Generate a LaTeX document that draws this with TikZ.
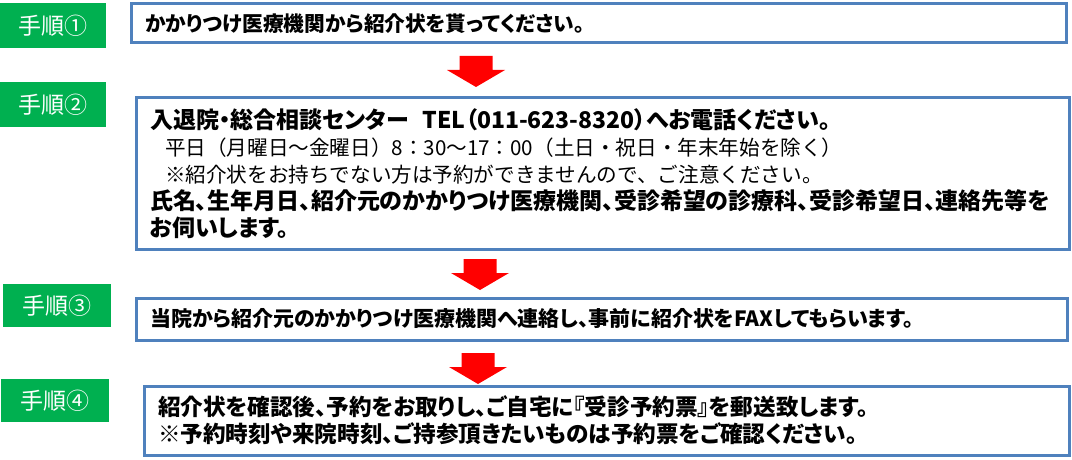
\documentclass[tikz,border=0pt]{standalone}
\usepackage{fontspec}
\setmainfont{Noto Sans CJK JP}[RawFeature=+palt]
\newfontfamily\plainjp{Noto Sans CJK JP}
\usetikzlibrary{positioning}

\definecolor{tagGreen}{HTML}{00B050}
\definecolor{boxBlue}{HTML}{4F81BD}
\definecolor{arrowRed}{HTML}{FF0000}

\tikzset{
	steptag/.style={fill=tagGreen, text=white, anchor=north west, inner sep=0pt, font=\fontsize{23}{26}\selectfont},
	infobox/.style={draw=boxBlue, line width=3pt, anchor=north west, inner xsep=14pt, inner ysep=0pt, align=left, font=\bfseries\fontsize{21}{27}\selectfont},
	redarrow/.pic={\fill[arrowRed] (-16.5,0) -- (16.5,0) -- (16.5,14) -- (29,14) -- (0,31) -- (-29,14) -- (-16.5,14) -- cycle;}
}
\newcommand{\plainline}[1]{{\plainjp\mdseries\fontsize{20.6}{27}\selectfont\hspace*{15pt}#1}}

\begin{document}
\begin{tikzpicture}[x=1pt, y=-1pt]
	\useasboundingbox (0,0) rectangle (1072,460);
	% step tags
	\node[steptag, minimum width=106pt, minimum height=45pt] (T1) at (0,3) {手順①};
	\node[steptag, minimum width=106pt, minimum height=45pt] (T2) at (0,82) {手順②};
	\node[steptag, minimum width=108pt, minimum height=43pt] (T3) at (3,284) {手順③};
	\node[steptag, minimum width=108pt, minimum height=43pt] (T4) at (1,379) {手順④};
	% boxes
	\node[infobox, minimum width=935pt, minimum height=39pt, text width=907pt, font=\bfseries\fontsize{20.7}{27}\selectfont] (B1) at (130,2.5) {かかりつけ医療機関から紹介状を貰ってください。};
	\node[infobox, minimum width=933pt, minimum height=151pt, text width=905pt, font=\bfseries\fontsize{23}{27}\selectfont] (B2) at (134.5,96.5) {入退院・総合相談センター\hspace{0.6em}TEL（011-623-8320）へお電話ください。\\
		\plainline{平日（月曜日～金曜日）8：30～17：00（土日・祝日・年末年始を除く）}\\
		\plainline{※紹介状をお持ちでない方は予約ができませんので、ご注意ください。}\\
		氏名、生年月日、紹介元のかかりつけ医療機関、受診希望の診療科、受診希望日、連絡先等を\\
		お伺いします。};
	\node[infobox, minimum width=931pt, minimum height=42pt, text width=903pt] (B3) at (134.5,296.5) {当院から紹介元のかかりつけ医療機関へ連絡し、事前に紹介状をFAXしてもらいます。};
	\node[infobox, minimum width=925pt, minimum height=69pt, text width=897pt, font=\bfseries\fontsize{22.6}{27}\selectfont] (B4) at (142.5,384.5) {紹介状を確認後、予約をお取りし、ご自宅に『受診予約票』を郵送致します。\\
		※予約時刻や来院時刻、ご持参頂きたいものは予約票をご確認ください。};
	% arrows
	\pic at (476,56) {redarrow};
	\pic at (480,259) {redarrow};
	\pic at (478,353) {redarrow};
\end{tikzpicture}
\end{document}
